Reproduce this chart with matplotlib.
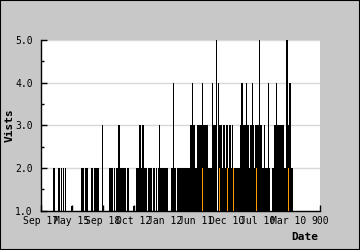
import numpy as np
import matplotlib
matplotlib.use("Agg")
import matplotlib.pyplot as plt
from matplotlib.patches import Rectangle

# tick labels along the date axis (evenly spaced categories)
date_labels = ["Sep 17", "May 15", "Sep 18", "Oct 12", "Jan 12",
               "Jun 11", "Dec 10", "Jul 10", "Mar 10", "900"]

# visits per day column, first column sits 11 slots right of the axis start
first_slot = 11
visits = [
    1, 2, 2, 1, 1, 1, 2, 2, 1, 2, 1, 2, 1, 2, 1, 1, 1, 1, 1, 1.1,    # 52-71
    1, 1, 1, 1, 1, 1, 1, 1, 1, 2, 2, 2, 1, 2, 2, 2, 1, 1, 1, 2,      # 72-91
    2, 1, 2, 2, 2, 2, 2, 1, 1, 1, 3, 1, 1, 1, 1, 1, 1, 2, 2, 2,      # 92-111
    2, 1, 2, 1, 2, 2, 3, 3, 2, 2, 2, 2, 2, 2, 1, 2, 2, 1, 1, 1,      # 112-131
    1, 1.1, 1, 1, 2, 2, 2, 3, 3, 2, 3, 3, 2, 2, 2, 1, 2, 2, 2, 2,    # 132-151
    1, 2, 2, 1, 2, 1, 2, 3, 2, 2, 2, 2, 2, 2, 2, 2, 1, 1, 1, 2,      # 152-171
    2, 4, 2, 2, 1, 2, 2, 2, 2, 2, 2, 2, 2, 2, 2, 2, 2, 2, 3, 3,      # 172-191
    4, 3, 3, 2, 2, 3, 3, 3, 3, 3, 4, 3, 3, 3, 3, 3, 2, 2, 2, 2,      # 192-211
    4, 3, 3, 3, 5, 1, 4, 3, 3, 3, 2, 3, 3, 2, 3, 3, 2, 3, 3, 2,      # 212-231
    3, 2, 2, 2, 2, 2, 2, 2, 3, 4, 4, 3, 3, 3, 4, 3, 3, 2, 3, 3,      # 232-251
    4, 3, 2, 3, 3, 3, 3, 5, 3, 3, 2, 2, 3, 2, 2, 2, 4, 2, 1, 1,      # 252-271
    2, 2, 3, 3, 4, 3, 3, 3, 3, 3, 3, 3, 2, 2, 5, 5, 3, 4, 4, 2,      # 272-291
    2,                                                              # 292
]

# thin orange days showing through the black bars
orange_slots = [161, 178, 186, 192, 215, 247]
orange_visits = [2, 2, 2, 2, 2, 2]

fig = plt.figure(figsize=(3.6, 2.5), dpi=100)
fig.patch.set_facecolor("#c8c8c8")
fig.patches.append(Rectangle((0, 0), 1, 1, transform=fig.transFigure,
                             fill=False, edgecolor="black", linewidth=1.5))

ax = fig.add_axes([0.1139, 0.157, 0.775, 0.683])
ax.set_facecolor("white")

x = first_slot + np.arange(len(visits)) + 0.5
ax.bar(x, visits, width=1.35, color="black", linewidth=0, antialiased=False, zorder=2)
ax.bar(np.array(orange_slots) + 0.5, orange_visits, width=0.9, color="#ff9900",
       linewidth=0, antialiased=False, zorder=3)

ax.set_xlim(0, 279)
ax.set_ylim(1.0, 5.0)
ax.set_xticks(np.linspace(0, 279, len(date_labels)))
ax.set_xticklabels(date_labels)
ax.set_yticks([1, 2, 3, 4, 5])
ax.set_yticklabels(["1.0", "2.0", "3.0", "4.0", "5.0"])
ax.set_yticks(np.arange(1.5, 5, 1.0), minor=True)

mono = "DejaVu Sans Mono"
for lab in ax.get_xticklabels() + ax.get_yticklabels():
    lab.set_family(mono)
    lab.set_fontsize(7)

ax.tick_params(axis="both", which="major", direction="in", length=4, width=1, colors="black")
ax.tick_params(axis="y", which="minor", direction="in", length=2.5, width=1)
ax.tick_params(axis="y", pad=6)
ax.tick_params(axis="x", pad=4)

ax.grid(axis="y", color="#d8d8d8", linewidth=1, zorder=1)
ax.set_axisbelow(True)
for s in ["top", "right"]:
    ax.spines[s].set_visible(False)
for s in ["left", "bottom"]:
    ax.spines[s].set_linewidth(1)

fig.text(0.028, 0.5, "Vists", rotation=90, ha="center", va="center",
         family=mono, fontsize=8, fontweight="bold")
fig.text(0.847, 0.054, "Date", ha="center", va="center",
         family=mono, fontsize=8, fontweight="bold")

fig.savefig("out.png", dpi=100, facecolor=fig.get_facecolor())
